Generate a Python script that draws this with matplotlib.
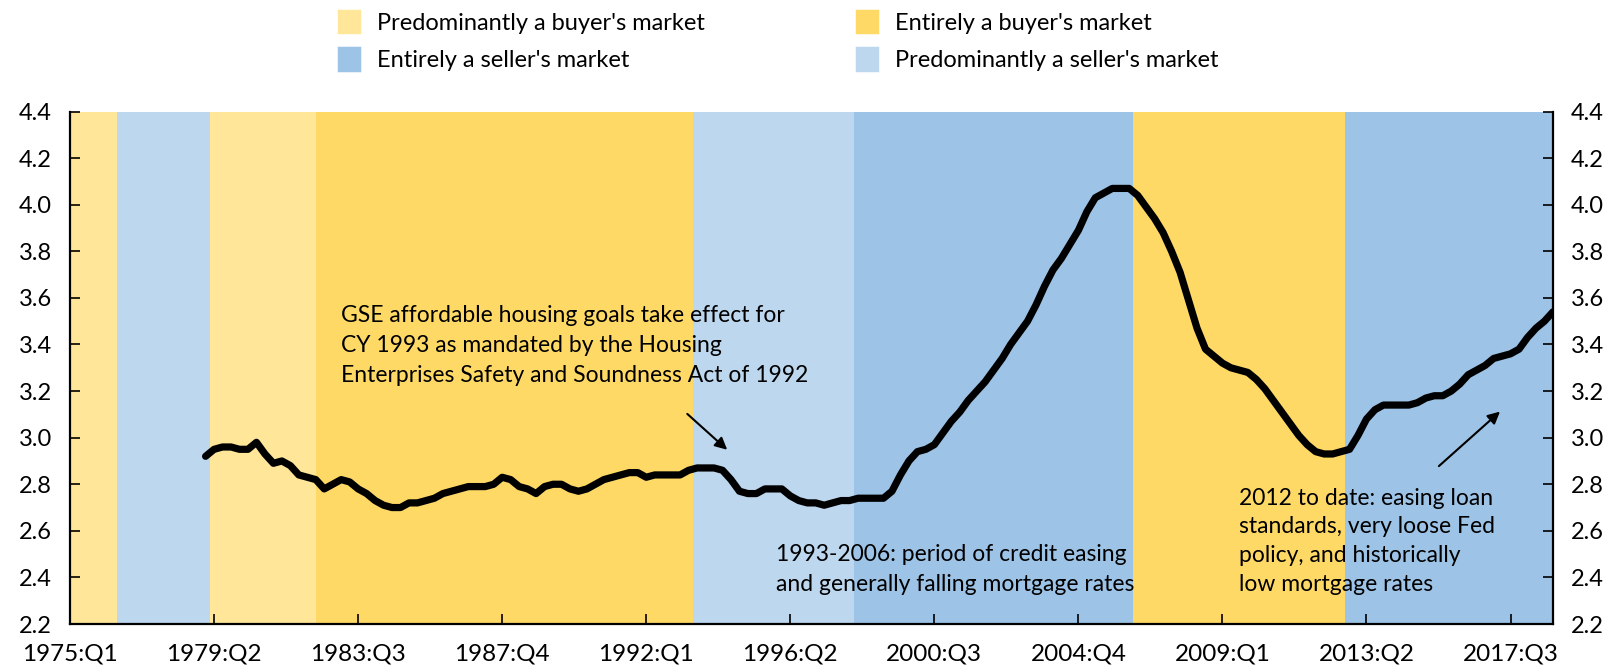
import numpy as np
import matplotlib.pyplot as plt
from matplotlib.patches import Patch

plt.rcParams['font.family'] = ['Lato', 'DejaVu Sans']

# quarterly axis 1975:Q1 .. 2018:Q4
quarters = [f"{y}:Q{q}" for y in range(1975, 2019) for q in range(1, 5)]

# ratio series starts 1979:Q1
ratio_start = "1979:Q1"
ratio = [
    2.92, 2.95, 2.96, 2.96, 2.95, 2.95, 2.98, 2.93, 2.89, 2.90,
    2.88, 2.84, 2.83, 2.82, 2.78, 2.80, 2.82, 2.81, 2.78, 2.76,
    2.73, 2.71, 2.70, 2.70, 2.72, 2.72, 2.73, 2.74, 2.76, 2.77,
    2.78, 2.79, 2.79, 2.79, 2.80, 2.83, 2.82, 2.79, 2.78, 2.76,
    2.79, 2.80, 2.80, 2.78, 2.77, 2.78, 2.80, 2.82, 2.83, 2.84,
    2.85, 2.85, 2.83, 2.84, 2.84, 2.84, 2.84, 2.86, 2.87, 2.87,
    2.87, 2.86, 2.82, 2.77, 2.76, 2.76, 2.78, 2.78, 2.78, 2.75,
    2.73, 2.72, 2.72, 2.71, 2.72, 2.73, 2.73, 2.74, 2.74, 2.74,
    2.74, 2.77, 2.84, 2.90, 2.94, 2.95, 2.97, 3.02, 3.07, 3.11,
    3.16, 3.20, 3.24, 3.29, 3.34, 3.40, 3.45, 3.50, 3.57, 3.65,
    3.72, 3.77, 3.83, 3.89, 3.97, 4.03, 4.05, 4.07, 4.07, 4.07,
    4.04, 3.99, 3.94, 3.88, 3.80, 3.71, 3.59, 3.47, 3.38, 3.35,
    3.32, 3.30, 3.29, 3.28, 3.25, 3.21, 3.16, 3.11, 3.06, 3.01,
    2.97, 2.94, 2.93, 2.93, 2.94, 2.95, 3.01, 3.08, 3.12, 3.14,
    3.14, 3.14, 3.14, 3.15, 3.17, 3.18, 3.18, 3.20, 3.23, 3.27,
    3.29, 3.31, 3.34, 3.35, 3.36, 3.38, 3.43, 3.47, 3.50, 3.54,
]

# market regime shading (edges in quarter positions)
band_edges = [0, 5.5, 16.5, 29, 73.5, 92.5, 125.5, 150.5, 175]
band_kinds = ["pb", "ps", "pb", "eb", "ps", "es", "eb", "es"]

kind_colors = {"pb": "#FFE699", "eb": "#FFD966", "es": "#9DC3E6", "ps": "#BDD7EE"}
kind_names = {
    "pb": "Predominantly a buyer's market",
    "eb": "Entirely a buyer's market",
    "es": "Entirely a seller's market",
    "ps": "Predominantly a seller's market",
}

tick_labels = ["1975:Q1", "1979:Q2", "1983:Q3", "1987:Q4", "1992:Q1", "1996:Q2",
               "2000:Q3", "2004:Q4", "2009:Q1", "2013:Q2", "2017:Q3"]
y_ticks = np.arange(2.2, 4.41, 0.2)

x0 = quarters.index(ratio_start)
xs = np.arange(x0, x0 + len(ratio))

fig = plt.figure(figsize=(16.21, 6.72), dpi=100)
ax = fig.add_axes([0.0432, 0.0714, 0.9148, 0.7626])

for (a, b), k in zip(zip(band_edges[:-1], band_edges[1:]), band_kinds):
    ax.axvspan(a, b, color=kind_colors[k], lw=0, zorder=0)

ax.plot(xs, ratio, color="black", lw=5.2, solid_capstyle="round",
        solid_joinstyle="round", zorder=3)

ax.set_xlim(0, len(quarters) - 1)
ax.set_ylim(2.2, 4.4)
ax.set_xticks([quarters.index(t) for t in tick_labels])
ax.set_xticklabels(tick_labels)
ax.set_yticks(y_ticks)
ax.set_yticklabels([f"{v:.1f}" for v in y_ticks])
ax.tick_params(axis="both", direction="in", colors="black", width=1.2, length=7)
ax.tick_params(axis="x", pad=14, labelsize=17.5)
ax.tick_params(axis="y", pad=13, labelsize=17, right=True, labelright=True)
ax.spines["top"].set_visible(False)
for s in ("left", "right", "bottom"):
    ax.spines[s].set_linewidth(1.6)
    ax.spines[s].set_zorder(4)

# annotations
note_style = dict(fontsize=16.5, ha="left", va="top", linespacing=1.52, zorder=5)
arrow_style = dict(arrowstyle="-|>", color="black", lw=1.5, mutation_scale=18)

ax.text(32.0, 3.57,
        "GSE affordable housing goals take effect for\n"
        "CY 1993 as mandated by the Housing\n"
        "Enterprises Safety and Soundness Act of 1992", **note_style)
ax.annotate("", xy=(77.8, 2.94), xytext=(72.6, 3.11), arrowprops=arrow_style, zorder=5)

ax.text(83.3, 2.543,
        "1993-2006: period of credit easing\nand generally falling mortgage rates",
        **note_style)

ax.text(138.0, 2.785,
        "2012 to date: easing loan\nstandards, very loose Fed\n"
        "policy, and historically\nlow mortgage rates",
        **dict(note_style, linespacing=1.45))
ax.annotate("", xy=(169.0, 3.12), xytext=(161.3, 2.87), arrowprops=arrow_style, zorder=5)

# legend: two rows, two columns
order = ["pb", "es", "eb", "ps"]
handles = [Patch(facecolor=kind_colors[k], edgecolor=kind_colors[k], linewidth=2.5,
                 joinstyle="round", label=kind_names[k]) for k in order]
fig.legend(handles=handles, ncol=2, loc="upper left",
           bbox_to_anchor=(0.199, 1.008), frameon=False, fontsize=17,
           handlelength=0.85, handleheight=1.0, handletextpad=0.75,
           columnspacing=6.45, labelspacing=0.62, borderpad=0.2)

fig.savefig("out.png", dpi=100)
